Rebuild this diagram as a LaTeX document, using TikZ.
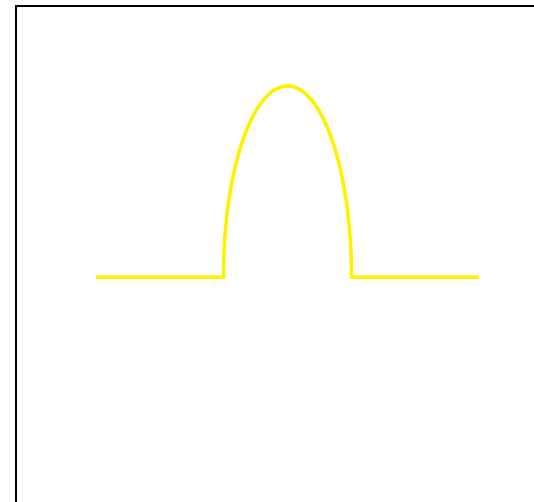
\documentclass[tikz,border=0pt]{standalone}
\usepackage{tikz}

\begin{document}
\begin{tikzpicture}[x=1pt,y=-1pt]
    \useasboundingbox (0,0) rectangle (534,501);
    \clip (0,0) rectangle (534,501);

    % Draw frame
    \draw[line width=2pt, black] (15.5,6) rectangle (545,520);

    % Draw pulse
    \coordinate (start) at (96,277);
    \coordinate (rise) at (223.5,277);
    \coordinate (fall) at (351.5,277);
    \coordinate (stop) at (479,277);
    \draw[line width=3.5pt, yellow] (start) -- (rise)
      arc[start angle=180, end angle=360, x radius=64, y radius=191] -- (stop);

  \end{tikzpicture}
\end{document}
